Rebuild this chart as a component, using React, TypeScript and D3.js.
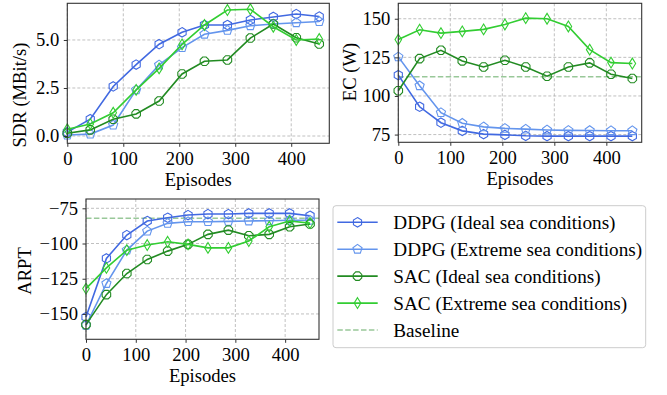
import * as d3 from "d3";
import { useEffect, useRef } from "react";

const WIDTH = 667;
const HEIGHT = 395;
const FONT = "'Liberation Serif', 'Times New Roman', serif";
const FONT_SIZE = 18.6;

const EPISODES = [0, 41, 82, 123, 164, 205, 245, 286, 327, 368, 409, 450];
const X_TICKS = [0, 100, 200, 300, 400];

const SERIES_NAMES = [
  "DDPG (Ideal sea conditions)",
  "DDPG (Extreme sea conditions)",
  "SAC (Ideal sea conditions)",
  "SAC (Extreme sea conditions)",
];
const SERIES_COLORS = ["#4169E1", "#6495ED", "#228B22", "#32CD32"];
const SERIES_MARKERS = ["hexagon", "pentagon", "octagon", "thinDiamond"];
const BASELINE_COLOR = "#99c899";

// SDR (MBit/s)
const sdrDdpgIdeal = [0.2, 0.88, 2.58, 3.72, 4.78, 5.4, 5.78, 5.78, 6.04, 6.2, 6.35, 6.22];
const sdrDdpgExtreme = [0.05, 0.1, 0.57, 2.4, 3.7, 4.6, 5.3, 5.5, 5.74, 5.83, 5.9, 5.96];
const sdrSacIdeal = [0.14, 0.32, 0.87, 1.15, 1.82, 3.23, 3.89, 3.96, 5.1, 5.83, 5.12, 4.79];
const sdrSacExtreme = [0.35, 0.63, 1.21, 2.4, 3.52, 4.77, 5.78, 6.56, 6.6, 5.69, 5.0, 5.05];

// EC (W)
const ecDdpgIdeal = [113.5, 93.0, 82.7, 77.4, 75.3, 74.8, 74.2, 74.0, 74.0, 74.0, 74.0, 74.0];
const ecDdpgExtreme = [125.3, 106.6, 89.2, 82.3, 80.0, 79.0, 78.5, 78.0, 77.7, 77.6, 77.5, 77.5];
const ecSacIdeal = [103.4, 124.2, 129.6, 122.7, 118.8, 123.1, 118.8, 112.8, 118.8, 121.4, 114.1, 111.3];
const ecSacExtreme = [136.5, 142.9, 140.7, 141.8, 143.1, 146.3, 150.4, 150.0, 145.0, 130.0, 121.6, 121.0];
const ecBaseline = 112.4;

// ARPT
const arptDdpgIdeal = [-152.2, -110.6, -94.0, -84.0, -81.7, -79.8, -79.1, -79.1, -78.6, -78.6, -78.6, -80.3];
const arptDdpgExtreme = [-158.1, -128.4, -104.7, -91.2, -85.7, -84.5, -84.5, -84.3, -84.0, -83.8, -83.5, -83.5];
const arptSacIdeal = [-157.6, -136.3, -121.3, -111.3, -105.4, -100.6, -93.5, -90.5, -94.5, -93.5, -88.1, -86.2];
const arptSacExtreme = [-132.0, -117.3, -104.7, -101.1, -98.8, -100.6, -103.1, -103.1, -98.3, -88.1, -84.0, -85.5];
const arptBaseline = -82.1;

type Panel = {
  left: number;
  right: number;
  top: number;
  bottom: number;
  yDomain: [number, number];
  yTicks: number[];
  yFormat: (v: number) => string;
  label: string;
  labelX: number;
  labelY: number;
  series: number[][];
  baseline?: number;
};

const PANELS: Panel[] = [
  {
    left: 67.3, right: 329.3, top: 3.3, bottom: 143.3,
    yDomain: [-0.38, 6.91], yTicks: [0, 2.5, 5],
    yFormat: d3.format(".1f"),
    label: "SDR (MBit/s)", labelX: 25.6, labelY: 95,
    series: [sdrDdpgIdeal, sdrDdpgExtreme, sdrSacIdeal, sdrSacExtreme],
  },
  {
    left: 398.3, right: 641.7, top: 3.3, bottom: 142.3,
    yDomain: [70, 160], yTicks: [75, 100, 125, 150],
    yFormat: d3.format("d"),
    label: "EC (W)", labelX: 356, labelY: 72,
    series: [ecDdpgIdeal, ecDdpgExtreme, ecSacIdeal, ecSacExtreme],
    baseline: ecBaseline,
  },
  {
    left: 86, right: 319, top: 199, bottom: 339.3,
    yDomain: [-168, -68.4], yTicks: [-150, -125, -100, -75],
    yFormat: d3.format("d"),
    label: "ARPT", labelX: 31, labelY: 271,
    series: [arptDdpgIdeal, arptDdpgExtreme, arptSacIdeal, arptSacExtreme],
    baseline: arptBaseline,
  },
];

function polygon(n: number, r: number, startDeg: number) {
  const pts: [number, number][] = [];
  for (let i = 0; i < n; i++) {
    const a = ((startDeg + (360 / n) * i) * Math.PI) / 180;
    pts.push([r * Math.cos(a), r * Math.sin(a)]);
  }
  return "M" + pts.map((p) => p.join(",")).join("L") + "Z";
}

function markerPath(kind: string) {
  if (kind === "hexagon") return polygon(6, 4.7, -90);
  if (kind === "pentagon") return polygon(5, 4.8, -90);
  if (kind === "octagon") return polygon(8, 4.6, -90 + 22.5);
  return "M0,-5.4L3.3,0L0,5.4L-3.3,0Z";
}

function drawPanel(svg: d3.Selection<SVGSVGElement, unknown, null, undefined>, p: Panel) {
  const g = svg.append("g");
  const x = d3.scaleLinear().domain([0, 468]).range([p.left, p.right]);
  const y = d3.scaleLinear().domain(p.yDomain).range([p.bottom, p.top]);

  // grid
  g.selectAll(".gx")
    .data(X_TICKS)
    .join("line")
    .attr("x1", (d) => x(d))
    .attr("x2", (d) => x(d))
    .attr("y1", p.top)
    .attr("y2", p.bottom)
    .attr("stroke", "#b0b0b0")
    .attr("stroke-width", 0.8)
    .attr("stroke-dasharray", "3,2");
  g.selectAll(".gy")
    .data(p.yTicks)
    .join("line")
    .attr("x1", p.left)
    .attr("x2", p.right)
    .attr("y1", (d) => y(d))
    .attr("y2", (d) => y(d))
    .attr("stroke", "#b0b0b0")
    .attr("stroke-width", 0.8)
    .attr("stroke-dasharray", "3,2");

  if (p.baseline !== undefined) {
    g.append("line")
      .attr("x1", p.left)
      .attr("x2", p.right)
      .attr("y1", y(p.baseline))
      .attr("y2", y(p.baseline))
      .attr("stroke", BASELINE_COLOR)
      .attr("stroke-width", 1.5)
      .attr("stroke-dasharray", "5.5,2.4");
  }

  const line = d3
    .line<number>()
    .x((_, i) => x(EPISODES[i]))
    .y((d) => y(d));

  p.series.forEach((values, si) => {
    g.append("path")
      .datum(values)
      .attr("fill", "none")
      .attr("stroke", SERIES_COLORS[si])
      .attr("stroke-width", 1.6)
      .attr("d", line);
    g.selectAll(null)
      .data(values)
      .join("path")
      .attr("transform", (d, i) => `translate(${x(EPISODES[i])},${y(d)})`)
      .attr("d", markerPath(SERIES_MARKERS[si]))
      .attr("fill", "none")
      .attr("stroke", SERIES_COLORS[si])
      .attr("stroke-width", 1.1);
  });

  // axes
  const xAxis = g
    .append("g")
    .attr("transform", `translate(0,${p.bottom})`)
    .call(d3.axisBottom(x).tickValues(X_TICKS).tickSize(3.5).tickPadding(5).tickSizeOuter(0));
  const yAxis = g
    .append("g")
    .attr("transform", `translate(${p.left},0)`)
    .call(d3.axisLeft(y).tickValues(p.yTicks).tickFormat(p.yFormat as any).tickSize(3.5).tickPadding(4.5).tickSizeOuter(0));
  [xAxis, yAxis].forEach((a) => {
    a.select(".domain").remove();
    a.selectAll("line").attr("stroke", "#333");
    a.selectAll("text")
      .attr("fill", "#000")
      .attr("font-family", FONT)
      .attr("font-size", FONT_SIZE);
  });

  g.append("rect")
    .attr("x", p.left)
    .attr("y", p.top)
    .attr("width", p.right - p.left)
    .attr("height", p.bottom - p.top)
    .attr("fill", "none")
    .attr("stroke", "#333")
    .attr("stroke-width", 1.1);

  g.append("text")
    .attr("x", (p.left + p.right) / 2)
    .attr("y", p.bottom + 43)
    .attr("text-anchor", "middle")
    .attr("font-family", FONT)
    .attr("font-size", FONT_SIZE)
    .text("Episodes");

  g.append("text")
    .attr("transform", `translate(${p.labelX},${p.labelY}) rotate(-90)`)
    .attr("text-anchor", "middle")
    .attr("font-family", FONT)
    .attr("font-size", FONT_SIZE)
    .text(p.label);
}

export default function App() {
  const svgRef = useRef<SVGSVGElement>(null);

  useEffect(() => {
    const svg = d3.select(svgRef.current as SVGSVGElement);
    svg.selectAll("*").remove();

    PANELS.forEach((p) => drawPanel(svg, p));

    // legend
    const lg = svg.append("g");
    lg.append("rect")
      .attr("x", 333)
      .attr("y", 205.7)
      .attr("width", 312.7)
      .attr("height", 142)
      .attr("rx", 3)
      .attr("fill", "#fff")
      .attr("stroke", "#cccccc")
      .attr("stroke-width", 1);
    const rowY = d3.scaleLinear().domain([0, 4]).range([222.3, 330]);
    const labels = [...SERIES_NAMES, "Baseline"];
    labels.forEach((name, i) => {
      const cy = rowY(i);
      const isBase = i === 4;
      lg.append("line")
        .attr("x1", 337.3)
        .attr("x2", 377.7)
        .attr("y1", cy)
        .attr("y2", cy)
        .attr("stroke", isBase ? BASELINE_COLOR : SERIES_COLORS[i])
        .attr("stroke-width", isBase ? 1.5 : 1.6)
        .attr("stroke-dasharray", isBase ? "5.5,2.4" : null);
      if (!isBase) {
        lg.append("path")
          .attr("transform", `translate(357.5,${cy})`)
          .attr("d", markerPath(SERIES_MARKERS[i]))
          .attr("fill", "none")
          .attr("stroke", SERIES_COLORS[i])
          .attr("stroke-width", 1.1);
      }
      lg.append("text")
        .attr("x", 393.3)
        .attr("y", cy + 6.5)
        .attr("font-family", FONT)
        .attr("font-size", 19.2)
        .text(name);
    });
  }, []);

  return (
    <svg
      ref={svgRef}
      width={WIDTH}
      height={HEIGHT}
      viewBox={`0 0 ${WIDTH} ${HEIGHT}`}
      style={{ position: "absolute", left: 0, top: 0, background: "#fff" }}
    />
  );
}
